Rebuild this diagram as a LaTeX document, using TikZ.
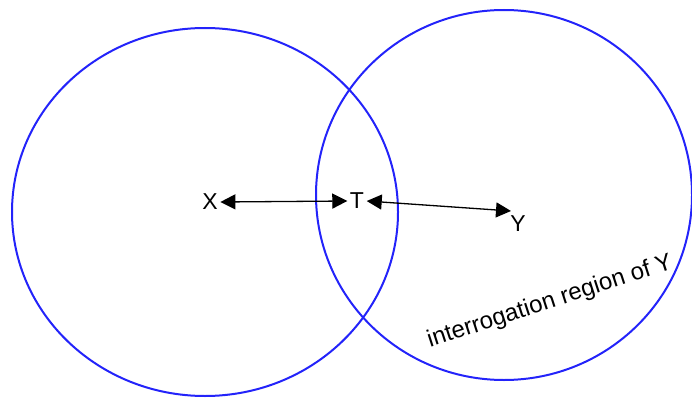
\documentclass[tikz,border=0pt]{standalone}
\usepackage{fontspec}
\setmainfont{Liberation Sans}
\usetikzlibrary{arrows.meta}
\definecolor{ringblue}{RGB}{35,35,250}
\begin{document}
\begin{tikzpicture}[x=1pt,y=-1pt,>={Triangle[length=15pt,width=15pt]},
  ring/.style={draw=ringblue,line width=2pt},
  lbl/.style={inner sep=2.5pt,font=\fontsize{23}{27}\selectfont},
  link/.style={<->,line width=1.3pt}]
% Rahmen
\useasboundingbox (0,0) rectangle (692,398);
% Bereiche um X und Y
\draw[ring] (205,212) ellipse [x radius=193,y radius=184];
\draw[ring] (504,195) ellipse [x radius=188,y radius=185];
% Punkte
\node[lbl] (X) at (210,202) {X};
\node[lbl] (T) at (357,201) {T};
\coordinate (Yend) at (511,211);
\node[lbl] (Y) at (518,224) {Y};
% Verbindungen
\draw[link] (X.east) -- (T.west);
\draw[link] (T.east) -- (Yend);
% Beschriftung des Bereichs
\node[lbl,font=\fontsize{24}{28}\selectfont,rotate=18] (region) at (550,302) {interrogation region of Y};
\end{tikzpicture}
\end{document}
